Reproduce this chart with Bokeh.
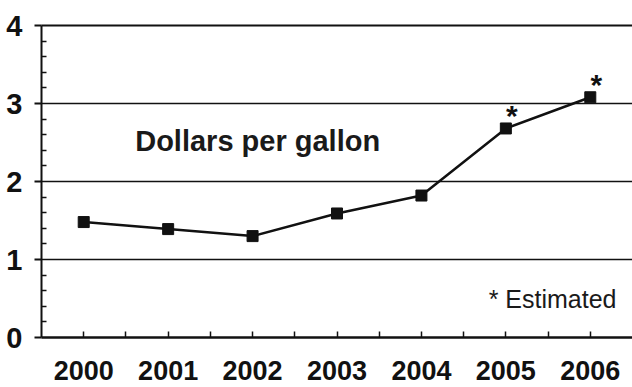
from bokeh.plotting import figure
from bokeh.models import ColumnDataSource, FixedTicker, LinearAxis, Range1d, Label
from bokeh.core.properties import value
from bokeh.embed import file_html
from bokeh.resources import INLINE

years = [2000, 2001, 2002, 2003, 2004, 2005, 2006]
price = [1.48, 1.39, 1.30, 1.59, 1.82, 2.68, 3.08]
estimated_years = [2005, 2006]
estimated_price = [2.68, 3.08]
y_ticks = [0, 1, 2, 3, 4]
y_label = "Dollars per gallon"
note = "* Estimated"

TICK_FONT = "Liberation Sans"
TEXT_FONT = "Liberation Sans"
INK = "#111111"

p = figure(width=632, height=387, output_backend="svg", toolbar_location=None,
           x_range=Range1d(1999.5, 2006.5), y_range=Range1d(0, 4),
           min_border_left=41, min_border_right=0, min_border_top=25, min_border_bottom=50,
           x_axis_location=None, y_axis_location=None)
p.outline_line_color = None
p.background_fill_color = "white"
p.border_fill_color = "white"

xaxis = LinearAxis(ticker=FixedTicker(ticks=years,
                                      minor_ticks=[y + 0.5 for y in years[:-1]]))
xaxis.axis_line_color = INK
xaxis.axis_line_width = 2.5
xaxis.major_tick_in = 6
xaxis.major_tick_out = 0
xaxis.minor_tick_in = 6
xaxis.minor_tick_out = 0
xaxis.major_tick_line_color = INK
xaxis.minor_tick_line_color = INK
xaxis.major_tick_line_width = 1.5
xaxis.minor_tick_line_width = 1.5
xaxis.major_label_text_font = TICK_FONT
xaxis.major_label_text_font_style = "bold"
xaxis.major_label_text_font_size = "27px"
xaxis.major_label_text_color = INK
xaxis.major_label_standoff = 23
p.add_layout(xaxis, "below")

yaxis = LinearAxis(ticker=FixedTicker(ticks=y_ticks,
                                      minor_ticks=[i / 5 for i in range(1, 20) if i % 5]))
yaxis.axis_line_color = INK
yaxis.axis_line_width = 2
yaxis.major_tick_in = 0
yaxis.major_tick_out = 7
yaxis.minor_tick_in = 5
yaxis.minor_tick_out = 0
yaxis.major_tick_line_color = INK
yaxis.minor_tick_line_color = INK
yaxis.major_tick_line_width = 2
yaxis.minor_tick_line_width = 1.5
yaxis.major_label_text_font = TICK_FONT
yaxis.major_label_text_font_style = "bold"
yaxis.major_label_text_font_size = "29px"
yaxis.major_label_text_color = INK
yaxis.major_label_standoff = 12
p.add_layout(yaxis, "left")

top = LinearAxis(ticker=FixedTicker(ticks=[]))
top.axis_line_color = INK
top.axis_line_width = 2
top.major_label_text_font_size = "0px"
top.major_tick_line_color = None
top.minor_tick_line_color = None
p.add_layout(top, "above")

p.xgrid.grid_line_color = None
p.ygrid.ticker = FixedTicker(ticks=y_ticks)
p.ygrid.grid_line_color = INK
p.ygrid.grid_line_width = 1.5

src = ColumnDataSource(dict(x=years, y=price))
p.line("x", "y", source=src, line_color=INK, line_width=2.5)
p.scatter("x", "y", source=src, marker="square", size=11, fill_color=INK, line_color=INK)

est = ColumnDataSource(dict(x=estimated_years, y=estimated_price, t=["*"] * len(estimated_years)))
p.text("x", "y", text="t", source=est, x_offset=6, y_offset=-13,
       text_font=value(TEXT_FONT), text_font_style="bold", text_font_size="30px",
       text_align="center", text_baseline="alphabetic", text_color=INK)

p.add_layout(Label(x=2000.61, y=2.525, text=y_label, text_font=TEXT_FONT,
                   text_font_style="bold", text_font_size="29px", text_color="#1a1a1a",
                   text_align="left", text_baseline="alphabetic"))
p.add_layout(Label(x=2006.31, y=0.50, text=note, text_font=TEXT_FONT,
                   text_font_size="25px", text_color="#1a1a1a",
                   text_align="right", text_baseline="alphabetic"))

open("out.html", "w").write(file_html(p, INLINE))
